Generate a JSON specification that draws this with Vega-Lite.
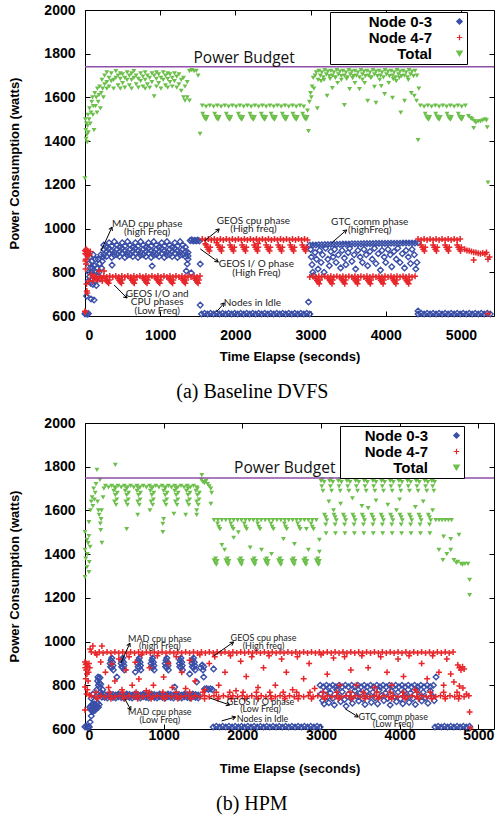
{
"$schema":"https://vega.github.io/schema/vega-lite/v6.json",
"background":"#ffffff",
"padding":{"left":8,"top":2,"right":0,"bottom":0},
"config":{
 "font":"Liberation Sans",
 "view":{"stroke":"#000","strokeWidth":1},
 "axis":{"labelFont":"Liberation Sans","labelFontWeight":"bold","labelFontSize":14,"labelColor":"#000","titleFont":"Liberation Sans","titleFontWeight":"bold","titleFontSize":13,"titleColor":"#000","grid":false,"domain":false,"ticks":true,"tickColor":"#000","tickSize":-5,"tickWidth":1,"format":"d"},
 "legend":{"title":null,"orient":"none","strokeColor":"#000","fillColor":"#fff","padding":2,"cornerRadius":0,"labelFont":"Liberation Sans","labelFontWeight":"bold","labelFontSize":15,"labelColor":"#000","labelAlign":"right","symbolSize":30,"rowPadding":-3.5,"symbolStrokeWidth":1.2},
 "concat":{"spacing":12}
},
"datasets":{
"aT":[{"t":0,"w":1230},{"t":5,"w":1500},{"t":10,"w":1450},{"t":15,"w":1410},{"t":20,"w":1480},{"t":25,"w":1430},{"t":30,"w":1395},{"t":35,"w":1470},{"t":40,"w":1520},{"t":45,"w":1440},{"t":55,"w":1500},{"t":60,"w":1550},{"t":70,"w":1480},{"t":80,"w":1530},{"t":90,"w":1580},{"t":100,"w":1600},{"t":105,"w":1520},{"t":110,"w":1560},{"t":120,"w":1450},{"t":130,"w":1620},{"t":140,"w":1560},{"t":150,"w":1600},{"t":160,"w":1530},{"t":165,"w":1640},{"t":175,"w":1580},{"t":185,"w":1610},{"t":195,"w":1650},{"t":205,"w":1550},{"t":215,"w":1620},{"t":225,"w":1680},{"t":235,"w":1640},{"t":245,"w":1600},
{"t":260,"w":1700},{"t":260,"w":1660},{"t":290,"w":1715},{"t":290,"w":1670},{"t":290,"w":1640},{"t":320,"w":1690},{"t":320,"w":1650},{"t":350,"w":1710},{"t":350,"w":1675},{"t":380,"w":1680},{"t":380,"w":1640},{"t":410,"w":1720},{"t":410,"w":1690},{"t":440,"w":1700},{"t":440,"w":1655},{"t":470,"w":1685},{"t":470,"w":1640},{"t":470,"w":1710},{"t":500,"w":1705},{"t":500,"w":1665},{"t":530,"w":1690},{"t":530,"w":1645},{"t":560,"w":1715},{"t":560,"w":1680},{"t":590,"w":1700},{"t":590,"w":1655},{"t":620,"w":1680},{"t":620,"w":1640},{"t":620,"w":1710},{"t":650,"w":1720},{"t":650,"w":1690},{"t":680,"w":1700},{"t":680,"w":1660},{"t":710,"w":1685},{"t":710,"w":1645},{"t":740,"w":1710},{"t":740,"w":1675},{"t":770,"w":1695},{"t":770,"w":1650},{"t":800,"w":1715},{"t":800,"w":1680},{"t":800,"w":1640},{"t":830,"w":1700},{"t":830,"w":1660},{"t":860,"w":1690},{"t":860,"w":1645},{"t":890,"w":1710},{"t":890,"w":1670},{"t":920,"w":1700},{"t":920,"w":1605},{"t":950,"w":1685},{"t":950,"w":1650},{"t":950,"w":1715},{"t":980,"w":1705},{"t":980,"w":1665},{"t":1010,"w":1690},{"t":1010,"w":1640},{"t":1040,"w":1715},{"t":1040,"w":1680},{"t":1070,"w":1700},{"t":1070,"w":1655},{"t":1100,"w":1685},{"t":1100,"w":1645},{"t":1100,"w":1710},{"t":1130,"w":1705},{"t":1130,"w":1670},{"t":1160,"w":1690},{"t":1160,"w":1650},{"t":1190,"w":1710},{"t":1190,"w":1675},{"t":1220,"w":1695},{"t":1220,"w":1645},{"t":1250,"w":1705},{"t":1250,"w":1660},{"t":1280,"w":1680},{"t":1280,"w":1630},{"t":1310,"w":1690},{"t":1310,"w":1600},{"t":1330,"w":1650},{"t":1330,"w":1585},{"t":1360,"w":1670},{"t":1360,"w":1600},{"t":1390,"w":1720},{"t":1390,"w":1585},{"t":1420,"w":1725},{"t":1450,"w":1720},{"t":1480,"w":1722},{"t":1505,"w":1700},{"t":1530,"w":1433},
{"t":1560,"w":1562},{"t":1610,"w":1558},{"t":1660,"w":1562},{"t":1710,"w":1558},{"t":1760,"w":1562},{"t":1810,"w":1558},{"t":1860,"w":1562},{"t":1910,"w":1558},{"t":1960,"w":1562},{"t":2010,"w":1558},{"t":2060,"w":1562},{"t":2110,"w":1558},{"t":2160,"w":1562},{"t":2210,"w":1558},{"t":2260,"w":1562},{"t":2310,"w":1558},{"t":2360,"w":1562},{"t":2410,"w":1558},{"t":2460,"w":1562},{"t":2510,"w":1558},{"t":2560,"w":1562},{"t":2610,"w":1558},{"t":2660,"w":1562},{"t":2710,"w":1558},{"t":2760,"w":1562},{"t":2810,"w":1558},{"t":2860,"w":1562},{"t":2910,"w":1558},
{"t":1565,"w":1525},{"t":1580,"w":1512},{"t":1595,"w":1503},{"t":1610,"w":1498},{"t":1625,"w":1510},
{"t":1725,"w":1525},{"t":1740,"w":1512},{"t":1755,"w":1503},{"t":1770,"w":1498},{"t":1785,"w":1510},
{"t":1880,"w":1525},{"t":1895,"w":1512},{"t":1910,"w":1503},{"t":1925,"w":1498},{"t":1940,"w":1510},
{"t":2040,"w":1525},{"t":2055,"w":1512},{"t":2070,"w":1503},{"t":2085,"w":1498},{"t":2100,"w":1510},
{"t":2195,"w":1525},{"t":2210,"w":1512},{"t":2225,"w":1503},{"t":2240,"w":1498},{"t":2255,"w":1510},
{"t":2345,"w":1525},{"t":2360,"w":1512},{"t":2375,"w":1503},{"t":2390,"w":1498},{"t":2405,"w":1510},
{"t":2475,"w":1525},{"t":2490,"w":1512},{"t":2505,"w":1503},{"t":2520,"w":1498},{"t":2535,"w":1510},
{"t":2625,"w":1525},{"t":2640,"w":1512},{"t":2655,"w":1503},{"t":2670,"w":1498},{"t":2685,"w":1510},
{"t":2765,"w":1525},{"t":2780,"w":1512},{"t":2795,"w":1503},{"t":2810,"w":1498},{"t":2825,"w":1510},
{"t":2895,"w":1525},{"t":2910,"w":1512},{"t":2925,"w":1503},{"t":2940,"w":1498},{"t":2955,"w":1510},
{"t":2960,"w":1540},{"t":2973,"w":1446},{"t":2985,"w":1580},{"t":3000,"w":1620},{"t":3010,"w":1600},{"t":3020,"w":1650},{"t":3035,"w":1690},{"t":3045,"w":1640},{"t":3060,"w":1700},{"t":3075,"w":1715},{"t":3090,"w":1550},{"t":3100,"w":1680},
{"t":3110,"w":1722},{"t":3150,"w":1715},{"t":3190,"w":1725},{"t":3230,"w":1718},{"t":3270,"w":1722},{"t":3310,"w":1715},{"t":3350,"w":1725},{"t":3390,"w":1718},{"t":3430,"w":1722},{"t":3470,"w":1715},{"t":3510,"w":1725},{"t":3550,"w":1718},{"t":3590,"w":1722},{"t":3630,"w":1715},{"t":3670,"w":1725},{"t":3710,"w":1718},{"t":3750,"w":1722},{"t":3790,"w":1715},{"t":3830,"w":1725},{"t":3870,"w":1718},{"t":3910,"w":1722},{"t":3950,"w":1715},{"t":3990,"w":1725},{"t":4030,"w":1718},{"t":4070,"w":1722},{"t":4110,"w":1715},{"t":4150,"w":1725},{"t":4190,"w":1718},{"t":4230,"w":1722},{"t":4270,"w":1715},{"t":4310,"w":1725},{"t":4350,"w":1718},{"t":4390,"w":1722},
{"t":3130,"w":1700},{"t":3170,"w":1692},{"t":3210,"w":1705},{"t":3250,"w":1698},{"t":3290,"w":1700},{"t":3330,"w":1692},{"t":3370,"w":1705},{"t":3410,"w":1698},{"t":3450,"w":1700},{"t":3490,"w":1692},{"t":3530,"w":1705},{"t":3570,"w":1698},{"t":3610,"w":1700},{"t":3650,"w":1692},{"t":3690,"w":1705},{"t":3730,"w":1698},{"t":3770,"w":1700},{"t":3810,"w":1692},{"t":3850,"w":1705},{"t":3890,"w":1698},{"t":3930,"w":1700},{"t":3970,"w":1692},{"t":4010,"w":1705},{"t":4050,"w":1698},{"t":4090,"w":1700},{"t":4130,"w":1692},{"t":4170,"w":1705},{"t":4210,"w":1698},{"t":4250,"w":1700},{"t":4290,"w":1692},{"t":4330,"w":1705},{"t":4370,"w":1698},
{"t":3140,"w":1675},{"t":3220,"w":1607},{"t":3290,"w":1643},{"t":3360,"w":1666},{"t":3450,"w":1565},{"t":3520,"w":1638},{"t":3590,"w":1666},{"t":3650,"w":1638},{"t":3720,"w":1666},{"t":3760,"w":1584},{"t":3850,"w":1648},{"t":3870,"w":1575},{"t":3940,"w":1652},{"t":3985,"w":1615},{"t":4040,"w":1666},{"t":4090,"w":1598},{"t":4140,"w":1675},{"t":4200,"w":1530},{"t":4250,"w":1584},{"t":4340,"w":1620},{"t":4380,"w":1607},{"t":3180,"w":1680},{"t":3260,"w":1685},{"t":3330,"w":1690},{"t":3410,"w":1680},{"t":3480,"w":1685},{"t":3560,"w":1688},{"t":3690,"w":1682},{"t":3800,"w":1690},{"t":3920,"w":1680},{"t":4100,"w":1684},{"t":4180,"w":1690},{"t":4300,"w":1680},
{"t":4410,"w":1584},{"t":4430,"w":1405},{"t":4415,"w":1700},{"t":4440,"w":1640},
{"t":4460,"w":1562},{"t":4510,"w":1558},{"t":4560,"w":1562},{"t":4610,"w":1558},{"t":4660,"w":1562},{"t":4710,"w":1558},{"t":4760,"w":1562},{"t":4810,"w":1558},{"t":4860,"w":1562},{"t":4910,"w":1558},{"t":4960,"w":1562},{"t":5010,"w":1558},{"t":5060,"w":1562},
{"t":4525,"w":1525},{"t":4540,"w":1512},{"t":4555,"w":1503},{"t":4570,"w":1498},{"t":4585,"w":1510},
{"t":4665,"w":1525},{"t":4680,"w":1512},{"t":4695,"w":1503},{"t":4710,"w":1498},{"t":4725,"w":1510},
{"t":4815,"w":1525},{"t":4830,"w":1512},{"t":4845,"w":1503},{"t":4860,"w":1498},{"t":4875,"w":1510},
{"t":4965,"w":1525},{"t":4980,"w":1512},{"t":4995,"w":1503},{"t":5010,"w":1498},{"t":5025,"w":1510},
{"t":5100,"w":1515},{"t":5130,"w":1505},{"t":5150,"w":1500},{"t":5180,"w":1492},{"t":5200,"w":1485},{"t":5230,"w":1490},{"t":5260,"w":1490},{"t":5290,"w":1495},{"t":5320,"w":1500},{"t":5340,"w":1495},{"t":5170,"w":1460},{"t":5350,"w":1463},{"t":5360,"w":1210}],
"a03":[{"t":0,"w":610},{"t":15,"w":612},{"t":30,"w":608},{"t":45,"w":611},
{"t":20,"w":692},{"t":45,"w":760},{"t":50,"w":800},{"t":55,"w":840},{"t":60,"w":780},{"t":65,"w":870},{"t":70,"w":820},{"t":75,"w":750},{"t":80,"w":678},{"t":85,"w":800},{"t":90,"w":850},{"t":95,"w":770},{"t":100,"w":820},{"t":105,"w":745},{"t":110,"w":880},{"t":115,"w":790},{"t":120,"w":673},{"t":125,"w":830},{"t":130,"w":760},{"t":140,"w":860},{"t":145,"w":800},{"t":150,"w":740},{"t":160,"w":820},{"t":170,"w":780},{"t":175,"w":860},{"t":185,"w":800},{"t":195,"w":840},{"t":200,"w":770},{"t":210,"w":880},{"t":220,"w":820},{"t":230,"w":850},{"t":240,"w":870},
{"t":250,"w":905},{"t":250,"w":880},{"t":250,"w":925},{"t":285,"w":895},{"t":285,"w":872},{"t":285,"w":915},{"t":320,"w":910},{"t":320,"w":888},{"t":320,"w":935},{"t":355,"w":898},{"t":355,"w":868},{"t":355,"w":920},{"t":390,"w":892},{"t":390,"w":878},{"t":390,"w":940},
{"t":425,"w":905},{"t":425,"w":880},{"t":425,"w":925},{"t":460,"w":895},{"t":460,"w":872},{"t":460,"w":915},{"t":495,"w":910},{"t":495,"w":888},{"t":495,"w":935},{"t":530,"w":898},{"t":530,"w":868},{"t":530,"w":920},{"t":565,"w":892},{"t":565,"w":878},{"t":565,"w":940},
{"t":600,"w":905},{"t":600,"w":880},{"t":600,"w":925},{"t":635,"w":895},{"t":635,"w":872},{"t":635,"w":915},{"t":670,"w":910},{"t":670,"w":888},{"t":670,"w":935},{"t":705,"w":898},{"t":705,"w":868},{"t":705,"w":920},{"t":740,"w":892},{"t":740,"w":878},{"t":740,"w":940},
{"t":775,"w":905},{"t":775,"w":880},{"t":775,"w":925},{"t":810,"w":895},{"t":810,"w":872},{"t":810,"w":915},{"t":845,"w":910},{"t":845,"w":888},{"t":845,"w":935},{"t":880,"w":898},{"t":880,"w":868},{"t":880,"w":920},{"t":915,"w":892},{"t":915,"w":878},{"t":915,"w":940},
{"t":950,"w":905},{"t":950,"w":880},{"t":950,"w":925},{"t":985,"w":895},{"t":985,"w":872},{"t":985,"w":915},{"t":1020,"w":910},{"t":1020,"w":888},{"t":1020,"w":935},{"t":1055,"w":898},{"t":1055,"w":868},{"t":1055,"w":920},{"t":1090,"w":892},{"t":1090,"w":878},{"t":1090,"w":940},
{"t":1125,"w":905},{"t":1125,"w":880},{"t":1125,"w":925},{"t":1160,"w":895},{"t":1160,"w":872},{"t":1160,"w":915},{"t":1195,"w":910},{"t":1195,"w":888},{"t":1195,"w":935},{"t":1230,"w":898},{"t":1230,"w":868},{"t":1230,"w":920},{"t":1265,"w":892},{"t":1265,"w":878},{"t":1265,"w":940},
{"t":1300,"w":905},{"t":1300,"w":880},{"t":1300,"w":925},{"t":1335,"w":895},{"t":1335,"w":872},{"t":1335,"w":915},{"t":1370,"w":875},{"t":1370,"w":860},{"t":1370,"w":890},
{"t":360,"w":833},{"t":893,"w":829},{"t":1347,"w":806},{"t":1360,"w":838},{"t":1413,"w":797},
{"t":1400,"w":945},{"t":1420,"w":948},{"t":1440,"w":943},{"t":1460,"w":946},{"t":1480,"w":944},{"t":1500,"w":947},{"t":1520,"w":943},{"t":1533,"w":838},{"t":1533,"w":650},
{"t":1550,"w":609},{"t":1590,"w":612},{"t":1630,"w":609},{"t":1670,"w":612},{"t":1710,"w":609},{"t":1750,"w":612},{"t":1790,"w":609},{"t":1830,"w":612},{"t":1870,"w":609},{"t":1910,"w":612},{"t":1950,"w":609},{"t":1990,"w":612},{"t":2030,"w":609},{"t":2070,"w":612},{"t":2110,"w":609},{"t":2150,"w":612},{"t":2190,"w":609},{"t":2230,"w":612},{"t":2270,"w":609},{"t":2310,"w":612},{"t":2350,"w":609},{"t":2390,"w":612},{"t":2430,"w":609},{"t":2470,"w":612},{"t":2510,"w":609},{"t":2550,"w":612},{"t":2590,"w":609},{"t":2630,"w":612},{"t":2670,"w":609},{"t":2710,"w":612},{"t":2750,"w":609},{"t":2790,"w":612},{"t":2830,"w":609},{"t":2870,"w":612},{"t":2910,"w":609},{"t":2950,"w":612},{"t":2990,"w":609},{"t":2973,"w":664},
{"t":2990,"w":924},{"t":3030,"w":925},{"t":3070,"w":925},{"t":3110,"w":926},{"t":3150,"w":926},{"t":3190,"w":927},{"t":3230,"w":927},{"t":3270,"w":927},{"t":3310,"w":928},{"t":3350,"w":928},{"t":3390,"w":928},{"t":3430,"w":929},{"t":3470,"w":929},{"t":3510,"w":929},{"t":3550,"w":930},{"t":3590,"w":930},{"t":3630,"w":930},{"t":3670,"w":930},{"t":3710,"w":931},{"t":3750,"w":931},{"t":3790,"w":931},{"t":3830,"w":931},{"t":3870,"w":932},{"t":3910,"w":932},{"t":3950,"w":932},{"t":3990,"w":932},{"t":4030,"w":933},{"t":4070,"w":933},{"t":4110,"w":933},{"t":4150,"w":933},{"t":4190,"w":933},{"t":4230,"w":934},{"t":4270,"w":934},{"t":4310,"w":934},{"t":4350,"w":934},{"t":4390,"w":934},{"t":4430,"w":935},
{"t":3000,"w":905},{"t":3010,"w":870},{"t":3020,"w":835},{"t":3030,"w":800},{"t":3040,"w":785},{"t":3060,"w":890},{"t":3080,"w":860},{"t":3100,"w":815},{"t":3120,"w":900},{"t":3140,"w":845},{"t":3160,"w":880},{"t":3180,"w":800},{"t":3200,"w":910},{"t":3230,"w":860},{"t":3250,"w":830},{"t":3270,"w":895},{"t":3300,"w":870},{"t":3320,"w":905},{"t":3340,"w":845},{"t":3370,"w":880},{"t":3400,"w":820},{"t":3420,"w":900},{"t":3450,"w":865},{"t":3470,"w":835},{"t":3500,"w":890},{"t":3520,"w":910},{"t":3550,"w":850},{"t":3580,"w":880},{"t":3600,"w":815},{"t":3630,"w":900},{"t":3660,"w":870},{"t":3690,"w":845},{"t":3710,"w":905},{"t":3740,"w":880},{"t":3760,"w":830},{"t":3790,"w":895},{"t":3820,"w":860},{"t":3850,"w":910},{"t":3870,"w":840},{"t":3900,"w":885},{"t":3930,"w":810},{"t":3950,"w":900},{"t":3980,"w":870},{"t":4000,"w":845},{"t":4030,"w":905},{"t":4060,"w":880},{"t":4080,"w":825},{"t":4110,"w":895},{"t":4140,"w":860},{"t":4160,"w":910},{"t":4190,"w":845},{"t":4220,"w":885},{"t":4250,"w":820},{"t":4270,"w":900},{"t":4300,"w":870},{"t":4330,"w":840},{"t":4350,"w":905},{"t":4380,"w":880},{"t":4400,"w":815},{"t":4415,"w":845},
{"t":4430,"w":623},{"t":4430,"w":609},{"t":4470,"w":612},{"t":4510,"w":609},{"t":4550,"w":612},{"t":4590,"w":609},{"t":4630,"w":612},{"t":4670,"w":609},{"t":4710,"w":612},{"t":4750,"w":609},{"t":4790,"w":612},{"t":4830,"w":609},{"t":4870,"w":612},{"t":4910,"w":609},{"t":4950,"w":612},{"t":4990,"w":609},{"t":5030,"w":612},{"t":5070,"w":609},{"t":5110,"w":612},{"t":5150,"w":609},{"t":5190,"w":612},{"t":5230,"w":609},{"t":5270,"w":612},{"t":5310,"w":609},{"t":5350,"w":612},{"t":5390,"w":609}],
"a47":[{"t":0,"w":622},{"t":5,"w":618},{"t":0,"w":900},{"t":5,"w":885},{"t":10,"w":895},{"t":15,"w":905},{"t":20,"w":880},{"t":25,"w":890},{"t":30,"w":900},{"t":35,"w":875},{"t":40,"w":895},{"t":45,"w":885},{"t":10,"w":860},{"t":5,"w":852},{"t":8,"w":815},{"t":15,"w":838},{"t":20,"w":746},{"t":25,"w":714},{"t":30,"w":705},{"t":53,"w":760},{"t":60,"w":880},{"t":70,"w":895},
{"t":85,"w":790},{"t":100,"w":780},{"t":120,"w":775},{"t":140,"w":782},{"t":160,"w":770},{"t":187,"w":806},{"t":200,"w":780},{"t":220,"w":775},{"t":253,"w":806},{"t":110,"w":760},{"t":170,"w":765},{"t":230,"w":760},
{"t":250,"w":783},{"t":290,"w":778},{"t":330,"w":783},{"t":370,"w":778},{"t":410,"w":783},{"t":450,"w":778},{"t":490,"w":783},{"t":530,"w":778},{"t":570,"w":783},{"t":610,"w":778},{"t":650,"w":783},{"t":690,"w":778},{"t":730,"w":783},{"t":770,"w":778},{"t":810,"w":783},{"t":850,"w":778},{"t":890,"w":783},{"t":930,"w":778},{"t":970,"w":783},{"t":1010,"w":778},{"t":1050,"w":783},{"t":1090,"w":778},{"t":1130,"w":783},{"t":1170,"w":778},{"t":1210,"w":783},{"t":1250,"w":778},{"t":1290,"w":783},{"t":1330,"w":778},{"t":1370,"w":783},{"t":1410,"w":778},{"t":1450,"w":783},{"t":1490,"w":778},{"t":1530,"w":783},
{"t":270,"w":770},{"t":285,"w":763},{"t":300,"w":756},{"t":315,"w":750},{"t":325,"w":765},
{"t":440,"w":770},{"t":455,"w":763},{"t":470,"w":756},{"t":485,"w":750},{"t":495,"w":765},
{"t":610,"w":770},{"t":625,"w":763},{"t":640,"w":756},{"t":655,"w":750},{"t":665,"w":765},
{"t":780,"w":770},{"t":795,"w":763},{"t":810,"w":756},{"t":825,"w":750},{"t":835,"w":765},
{"t":950,"w":770},{"t":965,"w":763},{"t":980,"w":756},{"t":995,"w":750},{"t":1005,"w":765},
{"t":1120,"w":770},{"t":1135,"w":763},{"t":1150,"w":756},{"t":1165,"w":750},{"t":1175,"w":765},
{"t":1290,"w":770},{"t":1305,"w":763},{"t":1320,"w":756},{"t":1335,"w":750},{"t":1345,"w":765},
{"t":1460,"w":770},{"t":1475,"w":763},{"t":1490,"w":756},{"t":1505,"w":750},{"t":1515,"w":765},
{"t":1560,"w":952},{"t":1600,"w":948},{"t":1640,"w":952},{"t":1680,"w":948},{"t":1720,"w":952},{"t":1760,"w":948},{"t":1800,"w":952},{"t":1840,"w":948},{"t":1880,"w":952},{"t":1920,"w":948},{"t":1960,"w":952},{"t":2000,"w":948},{"t":2040,"w":952},{"t":2080,"w":948},{"t":2120,"w":952},{"t":2160,"w":948},{"t":2200,"w":952},{"t":2240,"w":948},{"t":2280,"w":952},{"t":2320,"w":948},{"t":2360,"w":952},{"t":2400,"w":948},{"t":2440,"w":952},{"t":2480,"w":948},{"t":2520,"w":952},{"t":2560,"w":948},{"t":2600,"w":952},{"t":2640,"w":948},{"t":2680,"w":952},{"t":2720,"w":948},{"t":2760,"w":952},{"t":2800,"w":948},{"t":2840,"w":952},{"t":2880,"w":948},{"t":2920,"w":952},{"t":2960,"w":948},
{"t":1610,"w":925},{"t":1625,"w":915},{"t":1640,"w":905},{"t":1655,"w":897},{"t":1665,"w":915},
{"t":1770,"w":925},{"t":1785,"w":915},{"t":1800,"w":905},{"t":1815,"w":897},{"t":1825,"w":915},
{"t":1930,"w":925},{"t":1945,"w":915},{"t":1960,"w":905},{"t":1975,"w":897},{"t":1985,"w":915},
{"t":2090,"w":925},{"t":2105,"w":915},{"t":2120,"w":905},{"t":2135,"w":897},{"t":2145,"w":915},
{"t":2250,"w":925},{"t":2265,"w":915},{"t":2280,"w":905},{"t":2295,"w":897},{"t":2305,"w":915},
{"t":2410,"w":925},{"t":2425,"w":915},{"t":2440,"w":905},{"t":2455,"w":897},{"t":2465,"w":915},
{"t":2570,"w":925},{"t":2585,"w":915},{"t":2600,"w":905},{"t":2615,"w":897},{"t":2625,"w":915},
{"t":2730,"w":925},{"t":2745,"w":915},{"t":2760,"w":905},{"t":2775,"w":897},{"t":2785,"w":915},
{"t":2890,"w":925},{"t":2905,"w":915},{"t":2920,"w":905},{"t":2935,"w":897},{"t":2945,"w":915},
{"t":1600,"w":930},{"t":1750,"w":935},{"t":2300,"w":932},
{"t":2990,"w":778},{"t":3030,"w":782},{"t":3070,"w":778},{"t":3110,"w":782},{"t":3150,"w":778},{"t":3190,"w":782},{"t":3230,"w":778},{"t":3270,"w":782},{"t":3310,"w":778},{"t":3350,"w":782},{"t":3390,"w":778},{"t":3430,"w":782},{"t":3470,"w":778},{"t":3510,"w":782},{"t":3550,"w":778},{"t":3590,"w":782},{"t":3630,"w":778},{"t":3670,"w":782},{"t":3710,"w":778},{"t":3750,"w":782},{"t":3790,"w":778},{"t":3830,"w":782},{"t":3870,"w":778},{"t":3910,"w":782},{"t":3950,"w":778},{"t":3990,"w":782},{"t":4030,"w":778},{"t":4070,"w":782},{"t":4110,"w":778},{"t":4150,"w":782},{"t":4190,"w":778},{"t":4230,"w":782},{"t":4270,"w":778},{"t":4310,"w":782},{"t":4350,"w":778},{"t":4390,"w":782},
{"t":3070,"w":770},{"t":3085,"w":762},{"t":3100,"w":755},{"t":3115,"w":748},{"t":3125,"w":765},
{"t":3240,"w":770},{"t":3255,"w":762},{"t":3270,"w":755},{"t":3285,"w":748},{"t":3295,"w":765},
{"t":3410,"w":770},{"t":3425,"w":762},{"t":3440,"w":755},{"t":3455,"w":748},{"t":3465,"w":765},
{"t":3580,"w":770},{"t":3595,"w":762},{"t":3610,"w":755},{"t":3625,"w":748},{"t":3635,"w":765},
{"t":3750,"w":770},{"t":3765,"w":762},{"t":3780,"w":755},{"t":3795,"w":748},{"t":3805,"w":765},
{"t":3920,"w":770},{"t":3935,"w":762},{"t":3950,"w":755},{"t":3965,"w":748},{"t":3975,"w":765},
{"t":4090,"w":770},{"t":4105,"w":762},{"t":4120,"w":755},{"t":4135,"w":748},{"t":4145,"w":765},
{"t":4260,"w":770},{"t":4275,"w":762},{"t":4290,"w":755},{"t":4305,"w":748},{"t":4315,"w":765},
{"t":4430,"w":952},{"t":4470,"w":948},{"t":4510,"w":952},{"t":4550,"w":948},{"t":4590,"w":952},{"t":4630,"w":948},{"t":4670,"w":952},{"t":4710,"w":948},{"t":4750,"w":952},{"t":4790,"w":948},{"t":4830,"w":952},{"t":4870,"w":948},{"t":4910,"w":952},{"t":4950,"w":948},{"t":4990,"w":952},
{"t":4470,"w":925},{"t":4485,"w":915},{"t":4500,"w":905},{"t":4515,"w":897},{"t":4525,"w":915},
{"t":4630,"w":925},{"t":4645,"w":915},{"t":4660,"w":905},{"t":4675,"w":897},{"t":4685,"w":915},
{"t":4790,"w":925},{"t":4805,"w":915},{"t":4820,"w":905},{"t":4835,"w":897},{"t":4845,"w":915},
{"t":4950,"w":925},{"t":4965,"w":915},{"t":4980,"w":905},{"t":4995,"w":897},{"t":5005,"w":915},
{"t":5050,"w":905},{"t":5080,"w":900},{"t":5110,"w":898},{"t":5140,"w":895},{"t":5170,"w":892},{"t":5200,"w":890},{"t":5230,"w":887},{"t":5260,"w":885},{"t":5290,"w":888},{"t":5320,"w":884},{"t":5340,"w":890},{"t":5170,"w":856},{"t":5360,"w":860},{"t":5380,"w":870},{"t":5360,"w":610}],
"bT":[{"t":0,"w":1295},{"t":0,"w":1501},{"t":25,"w":1465},{"t":0,"w":1419},{"t":30,"w":1400},{"t":55,"w":1364},{"t":25,"w":1341},{"t":50,"w":1318},{"t":65,"w":1433},{"t":50,"w":1483},{"t":10,"w":1380},{"t":40,"w":1450},{"t":50,"w":1547},{"t":70,"w":1600},{"t":80,"w":1640},{"t":90,"w":1660},{"t":100,"w":1620},{"t":110,"w":1700},{"t":120,"w":1650},{"t":130,"w":1680},{"t":140,"w":1720},{"t":152,"w":1785},{"t":160,"w":1640},{"t":170,"w":1600},{"t":180,"w":1580},{"t":190,"w":1740},{"t":195,"w":1540},{"t":200,"w":1510},{"t":205,"w":1560},{"t":210,"w":1600},{"t":215,"w":1451},{"t":230,"w":1660},{"t":240,"w":1700},
{"t":260,"w":1712},{"t":300,"w":1705},{"t":340,"w":1712},{"t":380,"w":1705},{"t":420,"w":1712},{"t":460,"w":1705},{"t":500,"w":1712},{"t":540,"w":1705},{"t":580,"w":1712},{"t":620,"w":1705},{"t":660,"w":1712},{"t":700,"w":1705},{"t":740,"w":1712},{"t":780,"w":1705},{"t":820,"w":1712},{"t":860,"w":1705},{"t":900,"w":1712},{"t":940,"w":1705},{"t":980,"w":1712},{"t":1020,"w":1705},{"t":1060,"w":1712},{"t":1100,"w":1705},{"t":1140,"w":1712},{"t":1180,"w":1705},{"t":1220,"w":1712},{"t":1260,"w":1705},{"t":1300,"w":1712},{"t":1340,"w":1705},{"t":1380,"w":1712},{"t":1420,"w":1705},
{"t":365,"w":1690},{"t":385,"w":1670},{"t":405,"w":1650},{"t":375,"w":1640},{"t":395,"w":1625},{"t":385,"w":1700},{"t":410,"w":1680},
{"t":510,"w":1690},{"t":530,"w":1670},{"t":550,"w":1650},{"t":520,"w":1640},{"t":540,"w":1625},{"t":530,"w":1700},{"t":555,"w":1680},
{"t":660,"w":1690},{"t":680,"w":1670},{"t":700,"w":1650},{"t":670,"w":1640},{"t":690,"w":1625},{"t":680,"w":1700},{"t":705,"w":1680},
{"t":830,"w":1690},{"t":850,"w":1670},{"t":870,"w":1650},{"t":840,"w":1640},{"t":860,"w":1625},{"t":850,"w":1700},{"t":875,"w":1680},
{"t":1000,"w":1690},{"t":1020,"w":1670},{"t":1040,"w":1650},{"t":1010,"w":1640},{"t":1030,"w":1625},{"t":1020,"w":1700},{"t":1045,"w":1680},
{"t":1140,"w":1690},{"t":1160,"w":1670},{"t":1180,"w":1650},{"t":1150,"w":1640},{"t":1170,"w":1625},{"t":1160,"w":1700},{"t":1185,"w":1680},
{"t":1290,"w":1690},{"t":1310,"w":1670},{"t":1330,"w":1650},{"t":1300,"w":1640},{"t":1320,"w":1625},{"t":1310,"w":1700},{"t":1335,"w":1680},
{"t":1410,"w":1690},{"t":1430,"w":1670},{"t":1450,"w":1650},{"t":1420,"w":1640},{"t":1440,"w":1625},{"t":1430,"w":1700},{"t":1455,"w":1680},
{"t":385,"w":1808},{"t":530,"w":1515},{"t":670,"w":1580},{"t":826,"w":1600},{"t":990,"w":1538},{"t":990,"w":1501},{"t":1130,"w":1584},{"t":1280,"w":1580},{"t":1420,"w":1580},{"t":1485,"w":1762},{"t":1420,"w":1600},{"t":1000,"w":1560},
{"t":1480,"w":1740},{"t":1500,"w":1730},{"t":1520,"w":1725},{"t":1540,"w":1735},{"t":1560,"w":1720},{"t":1580,"w":1710},{"t":1600,"w":1700},{"t":1600,"w":1630},{"t":1610,"w":1680},
{"t":1640,"w":1556},{"t":1690,"w":1556},{"t":1740,"w":1556},{"t":1790,"w":1556},{"t":1840,"w":1556},{"t":1890,"w":1556},{"t":1940,"w":1556},{"t":1990,"w":1556},{"t":2040,"w":1556},{"t":2090,"w":1556},{"t":2140,"w":1556},{"t":2190,"w":1556},{"t":2240,"w":1556},{"t":2290,"w":1556},{"t":2340,"w":1556},{"t":2390,"w":1556},{"t":2440,"w":1556},{"t":2490,"w":1556},{"t":2540,"w":1556},{"t":2590,"w":1556},{"t":2640,"w":1556},{"t":2690,"w":1556},{"t":2740,"w":1556},{"t":2790,"w":1556},{"t":2840,"w":1556},{"t":2890,"w":1556},{"t":2940,"w":1556},
{"t":1685,"w":1540},{"t":1700,"w":1525},{"t":1715,"w":1515},{"t":1855,"w":1540},{"t":1870,"w":1525},{"t":1885,"w":1515},{"t":2025,"w":1540},{"t":2040,"w":1525},{"t":2055,"w":1515},{"t":2195,"w":1540},{"t":2210,"w":1525},{"t":2225,"w":1515},{"t":2365,"w":1540},{"t":2380,"w":1525},{"t":2395,"w":1515},{"t":2535,"w":1540},{"t":2550,"w":1525},{"t":2565,"w":1515},{"t":2705,"w":1540},{"t":2720,"w":1525},{"t":2735,"w":1515},{"t":2875,"w":1540},{"t":2890,"w":1525},{"t":2905,"w":1515},
{"t":1640,"w":1372},{"t":1655,"w":1360},{"t":1670,"w":1352},{"t":1680,"w":1368},{"t":1660,"w":1380},
{"t":1790,"w":1372},{"t":1805,"w":1360},{"t":1820,"w":1352},{"t":1830,"w":1368},{"t":1810,"w":1380},
{"t":1960,"w":1372},{"t":1975,"w":1360},{"t":1990,"w":1352},{"t":2000,"w":1368},{"t":1980,"w":1380},
{"t":2130,"w":1372},{"t":2145,"w":1360},{"t":2160,"w":1352},{"t":2170,"w":1368},{"t":2150,"w":1380},
{"t":2290,"w":1372},{"t":2305,"w":1360},{"t":2320,"w":1352},{"t":2330,"w":1368},{"t":2310,"w":1380},
{"t":2460,"w":1372},{"t":2475,"w":1360},{"t":2490,"w":1352},{"t":2500,"w":1368},{"t":2480,"w":1380},
{"t":2630,"w":1372},{"t":2645,"w":1360},{"t":2660,"w":1352},{"t":2670,"w":1368},{"t":2650,"w":1380},
{"t":2780,"w":1372},{"t":2795,"w":1360},{"t":2810,"w":1352},{"t":2820,"w":1368},{"t":2800,"w":1380},
{"t":2940,"w":1372},{"t":2955,"w":1360},{"t":2970,"w":1352},{"t":2980,"w":1368},{"t":2960,"w":1380},
{"t":1740,"w":1441},{"t":1775,"w":1419},{"t":1890,"w":1475},{"t":2244,"w":1419},{"t":2371,"w":1400},{"t":2523,"w":1469},{"t":2663,"w":1446},{"t":2815,"w":1515},{"t":2840,"w":1419},{"t":2980,"w":1465},{"t":2980,"w":1410},{"t":2100,"w":1430},{"t":1950,"w":1500},
{"t":3000,"w":1735},{"t":3020,"w":1742},{"t":3040,"w":1730},{"t":3010,"w":1710},{"t":3025,"w":1690},
{"t":3110,"w":1735},{"t":3130,"w":1742},{"t":3150,"w":1730},{"t":3120,"w":1710},{"t":3135,"w":1690},
{"t":3220,"w":1735},{"t":3240,"w":1742},{"t":3260,"w":1730},{"t":3230,"w":1710},{"t":3245,"w":1690},
{"t":3330,"w":1735},{"t":3350,"w":1742},{"t":3370,"w":1730},{"t":3340,"w":1710},{"t":3355,"w":1690},
{"t":3440,"w":1735},{"t":3460,"w":1742},{"t":3480,"w":1730},{"t":3450,"w":1710},{"t":3465,"w":1690},
{"t":3550,"w":1735},{"t":3570,"w":1742},{"t":3590,"w":1730},{"t":3560,"w":1710},{"t":3575,"w":1690},
{"t":3660,"w":1735},{"t":3680,"w":1742},{"t":3700,"w":1730},{"t":3670,"w":1710},{"t":3685,"w":1690},
{"t":3770,"w":1735},{"t":3790,"w":1742},{"t":3810,"w":1730},{"t":3780,"w":1710},{"t":3795,"w":1690},
{"t":3880,"w":1735},{"t":3900,"w":1742},{"t":3920,"w":1730},{"t":3890,"w":1710},{"t":3905,"w":1690},
{"t":3990,"w":1735},{"t":4010,"w":1742},{"t":4030,"w":1730},{"t":4000,"w":1710},{"t":4015,"w":1690},
{"t":4100,"w":1735},{"t":4120,"w":1742},{"t":4140,"w":1730},{"t":4110,"w":1710},{"t":4125,"w":1690},
{"t":4210,"w":1735},{"t":4230,"w":1742},{"t":4250,"w":1730},{"t":4220,"w":1710},{"t":4235,"w":1690},
{"t":4320,"w":1735},{"t":4340,"w":1742},{"t":4360,"w":1730},{"t":4330,"w":1710},{"t":4345,"w":1690},
{"t":4410,"w":1735},{"t":4430,"w":1742},{"t":4445,"w":1730},{"t":4420,"w":1710},{"t":4435,"w":1690},
{"t":3045,"w":1580},{"t":3060,"w":1568},{"t":3075,"w":1555},{"t":3060,"w":1535},{"t":3065,"w":1495},
{"t":3165,"w":1580},{"t":3180,"w":1568},{"t":3195,"w":1555},{"t":3180,"w":1535},{"t":3185,"w":1495},
{"t":3285,"w":1580},{"t":3300,"w":1568},{"t":3315,"w":1555},{"t":3300,"w":1535},{"t":3305,"w":1495},
{"t":3405,"w":1580},{"t":3420,"w":1568},{"t":3435,"w":1555},{"t":3420,"w":1535},{"t":3425,"w":1495},
{"t":3525,"w":1580},{"t":3540,"w":1568},{"t":3555,"w":1555},{"t":3540,"w":1535},{"t":3545,"w":1495},
{"t":3645,"w":1580},{"t":3660,"w":1568},{"t":3675,"w":1555},{"t":3660,"w":1535},{"t":3665,"w":1495},
{"t":3765,"w":1580},{"t":3780,"w":1568},{"t":3795,"w":1555},{"t":3780,"w":1535},{"t":3785,"w":1495},
{"t":3885,"w":1580},{"t":3900,"w":1568},{"t":3915,"w":1555},{"t":3900,"w":1535},{"t":3905,"w":1495},
{"t":4005,"w":1580},{"t":4020,"w":1568},{"t":4035,"w":1555},{"t":4020,"w":1535},{"t":4025,"w":1495},
{"t":4125,"w":1580},{"t":4140,"w":1568},{"t":4155,"w":1555},{"t":4140,"w":1535},{"t":4145,"w":1495},
{"t":4245,"w":1580},{"t":4260,"w":1568},{"t":4275,"w":1555},{"t":4260,"w":1535},{"t":4265,"w":1495},
{"t":4365,"w":1580},{"t":4380,"w":1568},{"t":4395,"w":1555},{"t":4380,"w":1535},{"t":4385,"w":1495},
{"t":3100,"w":1640},{"t":3250,"w":1630},{"t":3400,"w":1655},{"t":3520,"w":1620},{"t":3700,"w":1645},{"t":3850,"w":1625},{"t":4000,"w":1650},{"t":4200,"w":1615},{"t":4300,"w":1640},{"t":4420,"w":1600},{"t":3160,"w":1600},{"t":3600,"w":1610},{"t":3960,"w":1600},
{"t":4460,"w":1556},{"t":4500,"w":1556},{"t":4540,"w":1556},{"t":4580,"w":1556},{"t":4620,"w":1556},{"t":4660,"w":1556},
{"t":4475,"w":1785},{"t":4500,"w":1419},{"t":4550,"w":1373},{"t":4650,"w":1469},{"t":4650,"w":1419},{"t":4690,"w":1373},{"t":4755,"w":1488},{"t":4780,"w":1355},{"t":4720,"w":1360},{"t":4740,"w":1365},{"t":4800,"w":1352},{"t":4830,"w":1355},{"t":4870,"w":1355},{"t":4890,"w":1282},{"t":4890,"w":1213},{"t":4560,"w":1480},{"t":4600,"w":1400}],
"b03":[{"t":0,"w":610},{"t":15,"w":613},{"t":30,"w":607},{"t":45,"w":611},{"t":55,"w":609},
{"t":60,"w":700},{"t":65,"w":632},{"t":70,"w":690},{"t":75,"w":705},{"t":80,"w":660},{"t":85,"w":685},{"t":90,"w":712},{"t":95,"w":695},{"t":100,"w":680},{"t":105,"w":705},{"t":110,"w":690},{"t":115,"w":715},{"t":120,"w":700},{"t":125,"w":685},{"t":130,"w":710},{"t":140,"w":695},{"t":150,"w":705},{"t":160,"w":720},{"t":170,"w":700},{"t":80,"w":740},{"t":100,"w":760},{"t":120,"w":730},{"t":140,"w":750},{"t":180,"w":712},
{"t":150,"w":780},{"t":160,"w":820},{"t":165,"w":838},{"t":170,"w":800},{"t":175,"w":830},{"t":180,"w":810},{"t":185,"w":790},{"t":190,"w":835},{"t":195,"w":770},{"t":200,"w":805},{"t":205,"w":760},{"t":215,"w":746},{"t":225,"w":780},
{"t":250,"w":745},{"t":250,"w":758},{"t":285,"w":742},{"t":285,"w":755},{"t":320,"w":748},{"t":320,"w":760},{"t":355,"w":745},{"t":355,"w":758},{"t":390,"w":742},{"t":390,"w":755},{"t":425,"w":748},{"t":425,"w":760},{"t":460,"w":745},{"t":460,"w":758},{"t":495,"w":742},{"t":495,"w":755},{"t":530,"w":748},{"t":530,"w":760},{"t":565,"w":745},{"t":565,"w":758},{"t":600,"w":742},{"t":600,"w":755},{"t":635,"w":748},{"t":635,"w":760},{"t":670,"w":745},{"t":670,"w":758},{"t":705,"w":742},{"t":705,"w":755},{"t":740,"w":748},{"t":740,"w":760},{"t":775,"w":745},{"t":775,"w":758},{"t":810,"w":742},{"t":810,"w":755},{"t":845,"w":748},{"t":845,"w":760},{"t":880,"w":745},{"t":880,"w":758},{"t":915,"w":742},{"t":915,"w":755},{"t":950,"w":748},{"t":950,"w":760},{"t":985,"w":745},{"t":985,"w":758},{"t":1020,"w":742},{"t":1020,"w":755},{"t":1055,"w":748},{"t":1055,"w":760},{"t":1090,"w":745},{"t":1090,"w":758},{"t":1125,"w":742},{"t":1125,"w":755},{"t":1160,"w":748},{"t":1160,"w":760},{"t":1195,"w":745},{"t":1195,"w":758},{"t":1230,"w":742},{"t":1230,"w":755},{"t":1265,"w":748},{"t":1265,"w":760},{"t":1300,"w":745},{"t":1300,"w":758},{"t":1335,"w":742},{"t":1335,"w":755},{"t":1370,"w":748},{"t":1370,"w":760},{"t":1405,"w":745},{"t":1405,"w":758},{"t":1440,"w":742},{"t":1440,"w":755},
{"t":320,"w":900},{"t":330,"w":915},{"t":340,"w":880},{"t":350,"w":905},{"t":360,"w":870},{"t":340,"w":925},{"t":325,"w":885},{"t":355,"w":890},
{"t":460,"w":900},{"t":470,"w":915},{"t":480,"w":880},{"t":490,"w":905},{"t":500,"w":870},{"t":480,"w":925},{"t":465,"w":885},{"t":495,"w":890},
{"t":670,"w":900},{"t":680,"w":915},{"t":690,"w":880},{"t":700,"w":905},{"t":710,"w":870},{"t":690,"w":925},{"t":675,"w":885},{"t":705,"w":890},
{"t":840,"w":900},{"t":850,"w":915},{"t":860,"w":880},{"t":870,"w":905},{"t":880,"w":870},{"t":860,"w":925},{"t":845,"w":885},{"t":875,"w":890},
{"t":1020,"w":900},{"t":1030,"w":915},{"t":1040,"w":880},{"t":1050,"w":905},{"t":1060,"w":870},{"t":1040,"w":925},{"t":1025,"w":885},{"t":1055,"w":890},
{"t":1200,"w":900},{"t":1210,"w":915},{"t":1220,"w":880},{"t":1230,"w":905},{"t":1240,"w":870},{"t":1220,"w":925},{"t":1205,"w":885},{"t":1235,"w":890},
{"t":1360,"w":900},{"t":1370,"w":915},{"t":1380,"w":880},{"t":1390,"w":905},{"t":1400,"w":870},{"t":1380,"w":925},{"t":1365,"w":885},{"t":1395,"w":890},
{"t":405,"w":838},{"t":640,"w":861},{"t":1141,"w":792},{"t":1331,"w":852},{"t":1420,"w":815},{"t":1509,"w":838},{"t":1635,"w":875},
{"t":1470,"w":880},{"t":1490,"w":893},{"t":1500,"w":870},{"t":1510,"w":885},
{"t":1520,"w":783},{"t":1545,"w":785},{"t":1570,"w":781},{"t":1595,"w":784},{"t":1620,"w":780},
{"t":1630,"w":609},{"t":1670,"w":612},{"t":1710,"w":609},{"t":1750,"w":612},{"t":1790,"w":609},{"t":1830,"w":612},{"t":1870,"w":609},{"t":1910,"w":612},{"t":1950,"w":609},{"t":1990,"w":612},{"t":2030,"w":609},{"t":2070,"w":612},{"t":2110,"w":609},{"t":2150,"w":612},{"t":2190,"w":609},{"t":2230,"w":612},{"t":2270,"w":609},{"t":2310,"w":612},{"t":2350,"w":609},{"t":2390,"w":612},{"t":2430,"w":609},{"t":2470,"w":612},{"t":2510,"w":609},{"t":2550,"w":612},{"t":2590,"w":609},{"t":2630,"w":612},{"t":2670,"w":609},{"t":2710,"w":612},{"t":2750,"w":609},{"t":2790,"w":612},{"t":2830,"w":609},{"t":2870,"w":612},{"t":2910,"w":609},{"t":2950,"w":612},{"t":2990,"w":609},
{"t":2990,"w":800},{"t":3030,"w":793},{"t":3070,"w":800},{"t":3110,"w":793},{"t":3150,"w":800},{"t":3190,"w":793},{"t":3230,"w":800},{"t":3270,"w":793},{"t":3310,"w":800},{"t":3350,"w":793},{"t":3390,"w":800},{"t":3430,"w":793},{"t":3470,"w":800},{"t":3510,"w":793},{"t":3550,"w":800},{"t":3590,"w":793},{"t":3630,"w":800},{"t":3670,"w":793},{"t":3710,"w":800},{"t":3750,"w":793},{"t":3790,"w":800},{"t":3830,"w":793},{"t":3870,"w":800},{"t":3910,"w":793},{"t":3950,"w":800},{"t":3990,"w":793},{"t":4030,"w":800},{"t":4070,"w":793},{"t":4110,"w":800},{"t":4150,"w":793},{"t":4190,"w":800},{"t":4230,"w":793},{"t":4270,"w":800},{"t":4310,"w":793},{"t":4350,"w":800},{"t":4390,"w":793},{"t":4430,"w":800},
{"t":3000,"w":760},{"t":3020,"w":730},{"t":3040,"w":715},{"t":3060,"w":775},{"t":3080,"w":745},{"t":3100,"w":720},{"t":3120,"w":765},{"t":3150,"w":740},{"t":3170,"w":710},{"t":3200,"w":780},{"t":3220,"w":750},{"t":3250,"w":725},{"t":3270,"w":770},{"t":3300,"w":735},{"t":3320,"w":705},{"t":3350,"w":760},{"t":3380,"w":740},{"t":3400,"w":718},{"t":3430,"w":775},{"t":3450,"w":750},{"t":3480,"w":728},{"t":3500,"w":765},{"t":3530,"w":738},{"t":3560,"w":712},{"t":3580,"w":772},{"t":3610,"w":748},{"t":3640,"w":722},{"t":3660,"w":768},{"t":3690,"w":742},{"t":3720,"w":715},{"t":3740,"w":778},{"t":3770,"w":752},{"t":3800,"w":730},{"t":3820,"w":765},{"t":3850,"w":740},{"t":3880,"w":710},{"t":3900,"w":775},{"t":3930,"w":748},{"t":3960,"w":725},{"t":3980,"w":768},{"t":4010,"w":738},{"t":4040,"w":716},{"t":4060,"w":772},{"t":4090,"w":746},{"t":4120,"w":722},{"t":4140,"w":765},{"t":4170,"w":740},{"t":4200,"w":712},{"t":4220,"w":778},{"t":4250,"w":750},{"t":4280,"w":728},{"t":4300,"w":768},{"t":4330,"w":742},{"t":4360,"w":718},{"t":4390,"w":775},{"t":4420,"w":750},{"t":4440,"w":730},
{"t":4463,"w":838},
{"t":4450,"w":609},{"t":4490,"w":612},{"t":4530,"w":609},{"t":4570,"w":612},{"t":4610,"w":609},{"t":4650,"w":612},{"t":4690,"w":609},{"t":4730,"w":612},{"t":4770,"w":609},{"t":4810,"w":612},{"t":4850,"w":609},{"t":4890,"w":612}],
"b47":[{"t":0,"w":907},{"t":5,"w":880},{"t":10,"w":895},{"t":15,"w":870},{"t":20,"w":900},{"t":25,"w":852},{"t":30,"w":885},{"t":0,"w":792},{"t":0,"w":687},{"t":55,"w":755},{"t":40,"w":820},{"t":45,"w":860},{"t":50,"w":900},{"t":60,"w":880},{"t":65,"w":966},{"t":30,"w":780},{"t":20,"w":760},{"t":10,"w":830},
{"t":80,"w":952},{"t":130,"w":948},{"t":180,"w":952},{"t":230,"w":948},{"t":280,"w":952},{"t":330,"w":948},{"t":380,"w":952},{"t":430,"w":948},{"t":480,"w":952},{"t":530,"w":948},{"t":580,"w":952},{"t":630,"w":948},{"t":680,"w":952},{"t":730,"w":948},{"t":780,"w":952},{"t":830,"w":948},{"t":880,"w":952},{"t":930,"w":948},{"t":980,"w":952},{"t":1030,"w":948},{"t":1080,"w":952},{"t":1130,"w":948},{"t":1180,"w":952},{"t":1230,"w":948},{"t":1280,"w":952},{"t":1330,"w":948},{"t":1380,"w":952},{"t":1430,"w":948},{"t":1480,"w":952},{"t":1530,"w":948},{"t":1580,"w":952},{"t":1630,"w":948},{"t":1680,"w":952},{"t":1730,"w":948},{"t":1780,"w":952},{"t":1830,"w":948},{"t":1880,"w":952},{"t":1930,"w":948},{"t":1980,"w":952},{"t":2030,"w":948},{"t":2080,"w":952},{"t":2130,"w":948},{"t":2180,"w":952},{"t":2230,"w":948},{"t":2280,"w":952},{"t":2330,"w":948},{"t":2380,"w":952},{"t":2430,"w":948},{"t":2480,"w":952},{"t":2530,"w":948},{"t":2580,"w":952},{"t":2630,"w":948},{"t":2680,"w":952},{"t":2730,"w":948},{"t":2780,"w":952},{"t":2830,"w":948},{"t":2880,"w":952},{"t":2930,"w":948},{"t":2980,"w":952},{"t":3030,"w":948},{"t":3080,"w":952},{"t":3130,"w":948},{"t":3180,"w":952},{"t":3230,"w":948},{"t":3280,"w":952},{"t":3330,"w":948},{"t":3380,"w":952},{"t":3430,"w":948},{"t":3480,"w":952},{"t":3530,"w":948},{"t":3580,"w":952},{"t":3630,"w":948},{"t":3680,"w":952},{"t":3730,"w":948},{"t":3780,"w":952},{"t":3830,"w":948},{"t":3880,"w":952},{"t":3930,"w":948},{"t":3980,"w":952},{"t":4030,"w":948},{"t":4080,"w":952},{"t":4130,"w":948},{"t":4180,"w":952},{"t":4230,"w":948},{"t":4280,"w":952},{"t":4330,"w":948},{"t":4380,"w":952},{"t":4430,"w":948},{"t":4480,"w":952},{"t":4530,"w":948},{"t":4580,"w":952},{"t":4630,"w":948},{"t":4680,"w":952},
{"t":80,"w":752},{"t":140,"w":748},{"t":200,"w":752},{"t":260,"w":748},{"t":320,"w":752},{"t":380,"w":748},{"t":440,"w":752},{"t":500,"w":748},{"t":560,"w":752},{"t":620,"w":748},{"t":680,"w":752},{"t":740,"w":748},{"t":800,"w":752},{"t":860,"w":748},{"t":920,"w":752},{"t":980,"w":748},{"t":1040,"w":752},{"t":1100,"w":748},{"t":1160,"w":752},{"t":1220,"w":748},{"t":1280,"w":752},{"t":1340,"w":748},{"t":1400,"w":752},{"t":1460,"w":748},{"t":1520,"w":752},{"t":1580,"w":748},{"t":1640,"w":752},{"t":1700,"w":748},{"t":1760,"w":752},{"t":1820,"w":748},{"t":1880,"w":752},{"t":1940,"w":748},{"t":2000,"w":752},{"t":2060,"w":748},{"t":2120,"w":752},{"t":2180,"w":748},{"t":2240,"w":752},{"t":2300,"w":748},{"t":2360,"w":752},{"t":2420,"w":748},{"t":2480,"w":752},{"t":2540,"w":748},{"t":2600,"w":752},{"t":2660,"w":748},{"t":2720,"w":752},{"t":2780,"w":748},{"t":2840,"w":752},{"t":2900,"w":748},{"t":2960,"w":752},{"t":3020,"w":748},{"t":3080,"w":752},{"t":3140,"w":748},{"t":3200,"w":752},{"t":3260,"w":748},{"t":3320,"w":752},{"t":3380,"w":748},{"t":3440,"w":752},{"t":3500,"w":748},{"t":3560,"w":752},{"t":3620,"w":748},{"t":3680,"w":752},{"t":3740,"w":748},{"t":3800,"w":752},{"t":3860,"w":748},{"t":3920,"w":752},{"t":3980,"w":748},{"t":4040,"w":752},{"t":4100,"w":748},{"t":4160,"w":752},{"t":4220,"w":748},{"t":4280,"w":752},{"t":4340,"w":748},{"t":4400,"w":752},{"t":4460,"w":748},{"t":4520,"w":752},{"t":4580,"w":748},{"t":4640,"w":752},{"t":4700,"w":748},{"t":4760,"w":752},{"t":4820,"w":748},{"t":4880,"w":752},
{"t":140,"w":768},{"t":160,"w":738},{"t":310,"w":768},{"t":330,"w":738},{"t":480,"w":768},{"t":500,"w":738},{"t":650,"w":768},{"t":670,"w":738},{"t":820,"w":768},{"t":840,"w":738},{"t":990,"w":768},{"t":1010,"w":738},{"t":1160,"w":768},{"t":1180,"w":738},{"t":1330,"w":768},{"t":1350,"w":738},{"t":1500,"w":768},{"t":1520,"w":738},{"t":1670,"w":768},{"t":1690,"w":738},{"t":1840,"w":768},{"t":1860,"w":738},{"t":2010,"w":768},{"t":2030,"w":738},{"t":2180,"w":768},{"t":2200,"w":738},{"t":2350,"w":768},{"t":2370,"w":738},{"t":2520,"w":768},{"t":2540,"w":738},{"t":2690,"w":768},{"t":2710,"w":738},{"t":2860,"w":768},{"t":2880,"w":738},{"t":3030,"w":768},{"t":3050,"w":738},{"t":3200,"w":768},{"t":3220,"w":738},{"t":3370,"w":768},{"t":3390,"w":738},{"t":3540,"w":768},{"t":3560,"w":738},{"t":3710,"w":768},{"t":3730,"w":738},{"t":3880,"w":768},{"t":3900,"w":738},{"t":4050,"w":768},{"t":4070,"w":738},{"t":4220,"w":768},{"t":4240,"w":738},{"t":4390,"w":768},{"t":4410,"w":738},{"t":4560,"w":768},{"t":4580,"w":738},{"t":4730,"w":768},{"t":4750,"w":738},
{"t":100,"w":980},{"t":150,"w":940},{"t":200,"w":907},{"t":215,"w":980},{"t":260,"w":860},{"t":300,"w":790},{"t":342,"w":897},{"t":380,"w":820},{"t":430,"w":920},{"t":470,"w":780},{"t":520,"w":870},{"t":560,"w":930},{"t":600,"w":800},{"t":640,"w":905},{"t":685,"w":829},{"t":720,"w":940},{"t":780,"w":775},{"t":820,"w":880},{"t":870,"w":800},{"t":920,"w":935},{"t":1000,"w":838},{"t":1060,"w":900},{"t":1110,"w":790},{"t":1160,"w":930},{"t":1230,"w":860},{"t":1280,"w":785},{"t":1330,"w":915},{"t":1400,"w":820},{"t":1460,"w":940},{"t":1520,"w":780},{"t":1580,"w":900},{"t":1650,"w":930},{"t":1700,"w":800},{"t":1780,"w":860},{"t":1850,"w":935},{"t":1920,"w":775},{"t":1980,"w":910},{"t":2050,"w":840},{"t":2120,"w":930},{"t":2200,"w":790},{"t":2270,"w":880},{"t":2340,"w":935},{"t":2420,"w":800},{"t":2500,"w":920},{"t":2560,"w":860},{"t":2640,"w":780},{"t":2700,"w":930},{"t":2780,"w":830},{"t":2850,"w":900},{"t":2920,"w":785},{"t":3000,"w":940},{"t":3080,"w":850},{"t":3160,"w":925},{"t":3240,"w":800},{"t":3300,"w":930},{"t":3380,"w":870},{"t":3450,"w":800},{"t":3520,"w":935},{"t":3600,"w":880},{"t":3680,"w":790},{"t":3760,"w":930},{"t":3840,"w":860},{"t":3900,"w":800},{"t":3980,"w":920},{"t":4050,"w":840},{"t":4120,"w":935},{"t":4200,"w":780},{"t":4280,"w":900},{"t":4350,"w":830},{"t":4420,"w":935},{"t":4500,"w":860},{"t":4560,"w":800},{"t":4600,"w":920},
{"t":4650,"w":852},{"t":4690,"w":815},{"t":4740,"w":893},{"t":4760,"w":880},{"t":4780,"w":870},{"t":4800,"w":885},{"t":4820,"w":875},{"t":4760,"w":797},{"t":4805,"w":788},{"t":4850,"w":760},{"t":4890,"w":678},{"t":4900,"w":605}],
"txtA":[{"t":827,"w":1021,"txt":"MAD cpu phase"},{"t":827,"w":985,"txt":"(high Freq)"},{"t":2240,"w":1035,"txt":"GEOS cpu phase"},{"t":2240,"w":998,"txt":"(High freq)"},{"t":2280,"w":838,"txt":"GEOS I/ O phase"},{"t":2280,"w":797,"txt":"(High Freq)"},{"t":960,"w":701,"txt":"GEOS I/O and"},{"t":960,"w":664,"txt":"CPU phases"},{"t":960,"w":623,"txt":"(Low Freq)"},{"t":2227,"w":660,"txt":"Nodes in Idle"},{"t":3787,"w":1030,"txt":"GTC comm  phase"},{"t":3787,"w":993,"txt":"(highFreq)"}],
"arrA":[{"t":213,"w":897,"t2":360,"w2":1007,"ang":25},{"t":1587,"w":943,"t2":1787,"w2":998,"ang":51},{"t":1533,"w":907,"t2":1773,"w2":847,"ang":126},{"t":387,"w":742,"t2":560,"w2":682,"ang":135},{"t":1747,"w":618,"t2":1853,"w2":660,"ang":42},{"t":3280,"w":934,"t2":3480,"w2":994,"ang":49}],
"txtB":[{"t":951,"w":1012,"txt":"MAD cpu phase"},{"t":951,"w":980,"txt":"(high Freq)"},{"t":951,"w":678,"txt":"MAD cpu phase"},{"t":951,"w":641,"txt":"(Low Freq)"},{"t":2270,"w":1016,"txt":"GEOS cpu phase"},{"t":2270,"w":980,"txt":"(High freq)"},{"t":2232,"w":724,"txt":"GEOS I/ O phase"},{"t":2232,"w":692,"txt":"(Low Freq)"},{"t":2257,"w":646,"txt":"Nodes in Idle"},{"t":3918,"w":655,"txt":"GTC comm  phase"},{"t":3918,"w":623,"txt":"(Low Freq)"}],
"arrB":[{"t":456,"w":902,"t2":571,"w2":993,"ang":24},{"t":507,"w":737,"t2":583,"w2":687,"ang":151},{"t":1636,"w":934,"t2":1889,"w2":998,"ang":55},{"t":1585,"w":742,"t2":1839,"w2":710,"ang":109},{"t":1737,"w":637,"t2":1915,"w2":655,"ang":74},{"t":3309,"w":692,"t2":3474,"w2":655,"ang":122}]
},
"vconcat":[
{
 "width":409,"height":306,
 "title":{"text":"(a)  Baseline DVFS","orient":"bottom","anchor":"middle","frame":"bounds","font":"Liberation Serif","fontSize":20,"fontWeight":"normal","color":"#000","offset":19},
 "layer":[
  {"data":{"name":"a03"},"mark":{"type":"point","filled":false,"strokeWidth":1.4,"size":32,"opacity":1},
   "encoding":{
    "x":{"field":"t","type":"quantitative","scale":{"domain":[0,5440],"nice":false,"zero":false},"axis":{"title":"Time Elapse (seconds)","values":[0,1000,2000,3000,4000,5000],"labelPadding":17,"titlePadding":8}},
    "y":{"field":"w","type":"quantitative","scale":{"domain":[600,2000],"nice":false,"zero":false},"axis":{"title":"Power Consumption (watts)","values":[600,800,1000,1200,1400,1600,1800,2000],"labelPadding":15,"titlePadding":22}},
    "color":{"datum":"Node 0-3","type":"nominal","scale":{"domain":["Node 0-3","Node 4-7","Total"],"range":["#3a4fa8","#e8262a","#6cbf4a"]},"legend":{"legendX":245,"legendY":2,"labelOffset":-35,"symbolOffset":120,"encode":{"symbols":{"update":{"fill":[{"test":"datum.value==='Total'","value":"#6cbf4a"},{"value":"transparent"}]}}}}},
    "shape":{"datum":"Node 0-3","type":"nominal","scale":{"domain":["Node 0-3","Node 4-7","Total"],"range":["diamond","M-1,0H1M0,-1V1","triangle-down"]},"legend":{"legendX":245,"legendY":2,"labelOffset":-35,"symbolOffset":120}}
   }},
  {"data":{"name":"a47"},"mark":{"type":"point","filled":false,"strokeWidth":1.5,"size":36,"opacity":1},
   "encoding":{"x":{"field":"t","type":"quantitative","axis":null},"y":{"field":"w","type":"quantitative","axis":null},"color":{"datum":"Node 4-7","type":"nominal"},"shape":{"datum":"Node 4-7","type":"nominal"}}},
  {"data":{"name":"aT"},"mark":{"type":"point","filled":true,"size":24,"opacity":1},
   "encoding":{"x":{"field":"t","type":"quantitative","axis":null},"y":{"field":"w","type":"quantitative","axis":null},"color":{"datum":"Total","type":"nominal"},"shape":{"datum":"Total","type":"nominal"}}},
  {"data":{"values":[{"w":1740}]},"mark":{"type":"rule","color":"#8e4fa6","strokeWidth":1.5},"encoding":{"y":{"field":"w","type":"quantitative","axis":null}}},
  {"data":{"name":"arrA"},"mark":{"type":"rule","color":"#000","strokeWidth":1},"encoding":{"x":{"field":"t","type":"quantitative","axis":null},"y":{"field":"w","type":"quantitative","axis":null},"x2":{"field":"t2"},"y2":{"field":"w2"}}},
  {"data":{"name":"arrA"},"mark":{"type":"point","shape":"M0,0L-0.55,1M0,0L0.55,1","filled":false,"color":"#000","strokeWidth":1,"size":50,"opacity":1},"encoding":{"x":{"field":"t2","type":"quantitative","axis":null},"y":{"field":"w2","type":"quantitative","axis":null},"angle":{"field":"ang","type":"quantitative","scale":null}}},
  {"data":{"name":"txtA"},"mark":{"type":"text","font":"Lato","fontSize":10,"color":"#222","align":"center","baseline":"middle"},
   "encoding":{"x":{"field":"t","type":"quantitative","axis":{"orient":"top","labels":false,"title":null,"values":[0,1000,2000,3000,4000,5000]}},"y":{"field":"w","type":"quantitative","axis":{"orient":"right","labels":false,"title":null,"values":[600,800,1000,1200,1400,1600,1800,2000]}},"text":{"field":"txt"}}},
  {"data":{"values":[{"t":2117,"w":1780,"txt":"Power Budget"}]},"mark":{"type":"text","font":"Open Sans","fontSize":15.5,"color":"#111","align":"center","baseline":"middle"},
   "encoding":{"x":{"field":"t","type":"quantitative","axis":null},"y":{"field":"w","type":"quantitative","axis":null},"text":{"field":"txt"}}}
 ],
 "resolve":{"axis":{"x":"independent","y":"independent"}}
},
{
 "width":409,"height":306,
 "title":{"text":"(b)  HPM","orient":"bottom","anchor":"middle","frame":"bounds","font":"Liberation Serif","fontSize":20,"fontWeight":"normal","color":"#000","offset":19},
 "layer":[
  {"data":{"name":"b03"},"mark":{"type":"point","filled":false,"strokeWidth":1.4,"size":32,"opacity":1},
   "encoding":{
    "x":{"field":"t","type":"quantitative","scale":{"domain":[0,5200],"nice":false,"zero":false},"axis":{"title":"Time Elapse (seconds)","values":[0,1000,2000,3000,4000,5000],"labelPadding":4,"titlePadding":20}},
    "y":{"field":"w","type":"quantitative","scale":{"domain":[600,2000],"nice":false,"zero":false},"axis":{"title":"Power Consumption (watts)","values":[600,800,1000,1200,1400,1600,1800,2000],"labelPadding":15,"titlePadding":22}},
    "color":{"datum":"Node 0-3","type":"nominal","scale":{"domain":["Node 0-3","Node 4-7","Total"],"range":["#3a4fa8","#e8262a","#6cbf4a"]},"legend":{"legendX":255,"legendY":3,"labelOffset":-36,"symbolOffset":107,"encode":{"symbols":{"update":{"fill":[{"test":"datum.value==='Total'","value":"#6cbf4a"},{"value":"transparent"}]}}}}},
    "shape":{"datum":"Node 0-3","type":"nominal","scale":{"domain":["Node 0-3","Node 4-7","Total"],"range":["diamond","M-1,0H1M0,-1V1","triangle-down"]},"legend":{"legendX":255,"legendY":3,"labelOffset":-36,"symbolOffset":107}}
   }},
  {"data":{"name":"b47"},"mark":{"type":"point","filled":false,"strokeWidth":1.5,"size":36,"opacity":1},
   "encoding":{"x":{"field":"t","type":"quantitative","axis":null},"y":{"field":"w","type":"quantitative","axis":null},"color":{"datum":"Node 4-7","type":"nominal"},"shape":{"datum":"Node 4-7","type":"nominal"}}},
  {"data":{"name":"bT"},"mark":{"type":"point","filled":true,"size":24,"opacity":1},
   "encoding":{"x":{"field":"t","type":"quantitative","axis":null},"y":{"field":"w","type":"quantitative","axis":null},"color":{"datum":"Total","type":"nominal"},"shape":{"datum":"Total","type":"nominal"}}},
  {"data":{"values":[{"w":1748}]},"mark":{"type":"rule","color":"#8e4fa6","strokeWidth":1.5},"encoding":{"y":{"field":"w","type":"quantitative","axis":null}}},
  {"data":{"name":"arrB"},"mark":{"type":"rule","color":"#000","strokeWidth":1},"encoding":{"x":{"field":"t","type":"quantitative","axis":null},"y":{"field":"w","type":"quantitative","axis":null},"x2":{"field":"t2"},"y2":{"field":"w2"}}},
  {"data":{"name":"arrB"},"mark":{"type":"point","shape":"M0,0L-0.55,1M0,0L0.55,1","filled":false,"color":"#000","strokeWidth":1,"size":50,"opacity":1},"encoding":{"x":{"field":"t2","type":"quantitative","axis":null},"y":{"field":"w2","type":"quantitative","axis":null},"angle":{"field":"ang","type":"quantitative","scale":null}}},
  {"data":{"name":"txtB"},"mark":{"type":"text","font":"Lato","fontSize":9,"color":"#222","align":"center","baseline":"middle"},
   "encoding":{"x":{"field":"t","type":"quantitative","axis":{"orient":"top","labels":false,"title":null,"values":[0,1000,2000,3000,4000,5000]}},"y":{"field":"w","type":"quantitative","axis":{"orient":"right","labels":false,"title":null,"values":[600,800,1000,1200,1400,1600,1800,2000]}},"text":{"field":"txt"}}},
  {"data":{"values":[{"t":2540,"w":1792,"txt":"Power Budget"}]},"mark":{"type":"text","font":"Open Sans","fontSize":15.5,"color":"#111","align":"center","baseline":"middle"},
   "encoding":{"x":{"field":"t","type":"quantitative","axis":null},"y":{"field":"w","type":"quantitative","axis":null},"text":{"field":"txt"}}}
 ],
 "resolve":{"axis":{"x":"independent","y":"independent"}}
}
],
"resolve":{"scale":{"color":"independent","shape":"independent"}}
}
